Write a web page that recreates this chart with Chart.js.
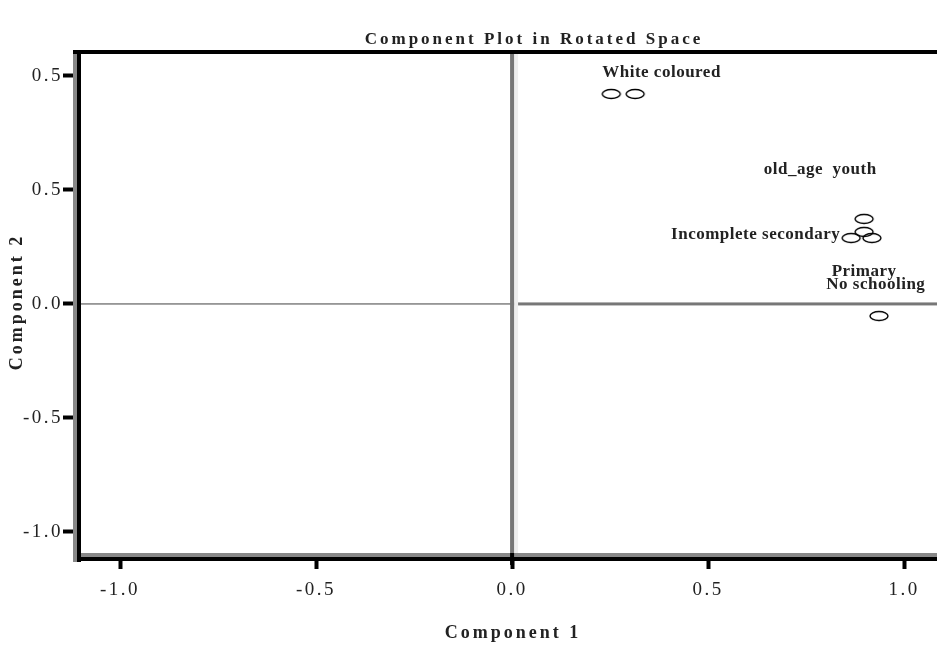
<!DOCTYPE html>
<html>
<head>
<meta charset="utf-8">
<script src="https://cdn.jsdelivr.net/npm/chart.js@4/dist/chart.umd.min.js"></script>
<style>
  html, body { margin: 0; padding: 0; background: #fff; }
  #wrap { width: 937px; height: 645px; }
</style>
</head>
<body>
<div id="wrap"><canvas id="myChart" width="937" height="645"></canvas></div>
<script>
'use strict';

// loadings
const comp1 = [0.253, 0.314, 0.898, 0.898, 0.865, 0.918, 0.936];
const comp2 = [0.921, 0.921, 0.373, 0.316, 0.289, 0.289, -0.053];

const tickValues = [-1.0, -0.5, 0.0, 0.5, 1.0];
const xTickLabels = ['-1.0', '-0.5', '0.0', '0.5', '1.0'];
const yTickLabels = ['-1.0', '-0.5', '0.0', '0.5', '0.5'];

const labelTexts = ['White coloured', 'old_age  youth', 'Incomplete secondary', 'Primary', 'No schooling'];
const labelX = [0.230, 0.786, 0.837, 0.898, 0.928];
const labelY = [1.013, 0.588, 0.303, 0.140, 0.083];
const labelAlign = ['left', 'center', 'right', 'center', 'center'];

const serif = '"Liberation Serif", "DejaVu Serif", serif';

// ellipse marker
const marker = document.createElement('canvas');
marker.width = 22;
marker.height = 12;
const mctx = marker.getContext('2d');
mctx.beginPath();
mctx.ellipse(11, 6, 9, 4.5, 0, 0, Math.PI * 2);
mctx.lineWidth = 1.4;
mctx.strokeStyle = '#000';
mctx.stroke();

const frame = {
  id: 'frame',
  beforeDraw(chart) {
    chart.ctx.letterSpacing = '2.5px';
  },
  beforeDatasetsDraw(chart) {
    const c = chart.ctx;
    const a = chart.chartArea;
    const x0 = chart.scales.x.getPixelForValue(0);
    const y0 = chart.scales.y.getPixelForValue(0);
    c.save();
    // zero lines
    c.fillStyle = '#777';
    c.fillRect(a.left, y0 - 0.7, x0 - a.left, 1.4);
    c.fillRect(x0, y0 - 1.5, a.right - x0, 3);
    c.fillStyle = '#eee';
    c.fillRect(x0 + 2, a.top, 4, a.bottom - a.top);
    c.fillStyle = '#777';
    c.fillRect(x0 - 2, a.top, 4, a.bottom - a.top + 5);
    // frame
    c.fillStyle = '#888';
    c.fillRect(a.left - 2, a.top, 4, a.bottom - a.top + 5);
    c.fillRect(a.left, a.bottom - 4, a.right - a.left, 4);
    c.fillStyle = '#000';
    c.fillRect(a.left - 2, a.top - 2, a.right - a.left + 2, 4);
    c.fillRect(a.left + 2, a.top, 4, a.bottom - a.top + 5);
    c.fillRect(a.left + 2, a.bottom, a.right - a.left, 4);
    c.fillRect(x0 - 2, a.bottom - 4, 4, 12);
    c.restore();
  },
  afterDraw(chart) {
    const c = chart.ctx;
    const xs = chart.scales.x;
    const ys = chart.scales.y;
    c.save();
    c.fillStyle = '#222';
    c.textBaseline = 'middle';
    // point labels
    c.font = 'bold 17px ' + serif;
    c.letterSpacing = '0.5px';
    labelTexts.forEach((t, i) => {
      c.textAlign = labelAlign[i];
      c.fillText(t, xs.getPixelForValue(labelX[i]), ys.getPixelForValue(labelY[i]));
    });
    // titles
    c.textAlign = 'center';
    c.font = 'bold 17px ' + serif;
    c.letterSpacing = '3px';
    c.fillText('Component Plot in Rotated Space', 534, 40);
    c.font = 'bold 18px ' + serif;
    c.fillText('Component 1', 513, 633);
    c.translate(17, 302);
    c.rotate(-Math.PI / 2);
    c.fillText('Component 2', 0, 0);
    c.restore();
  }
};

const ctx = document.getElementById('myChart').getContext('2d');

const myChart = new Chart(ctx, {
  type: 'scatter',
  data: {
    datasets: [{
      data: comp1.map((v, i) => ({ x: v, y: comp2[i] })),
      pointStyle: marker,
      pointRadius: 10
    }]
  },
  options: {
    responsive: false,
    animation: false,
    events: [],
    layout: { autoPadding: false, padding: { top: 52, left: 0, right: 0, bottom: 0 } },
    plugins: { legend: { display: false }, tooltip: { enabled: false } },
    scales: {
      x: {
        min: -1.115,
        max: 1.084,
        afterFit: (s) => { s.height = 88; s.paddingLeft = 0; s.paddingRight = 0; },
        afterBuildTicks: (s) => { s.ticks = tickValues.map(v => ({ value: v })); },
        border: { display: false },
        grid: { drawOnChartArea: false, color: '#000', tickLength: 12, tickWidth: 4 },
        ticks: {
          padding: 10,
          color: '#222',
          font: { family: serif, size: 19 },
          maxRotation: 0,
          autoSkip: false,
          callback: (v, i) => xTickLabels[i]
        }
      },
      y: {
        min: -1.11,
        max: 1.105,
        afterFit: (s) => { s.width = 75; s.paddingTop = 0; s.paddingBottom = 0; },
        afterBuildTicks: (s) => { s.ticks = tickValues.map(v => ({ value: v })); },
        border: { display: false },
        grid: { drawOnChartArea: false, color: '#000', tickLength: 12, tickWidth: 4 },
        ticks: {
          padding: 0,
          color: '#222',
          font: { family: serif, size: 19 },
          autoSkip: false,
          callback: (v, i) => yTickLabels[i]
        }
      }
    }
  },
  plugins: [frame]
});
</script>
</body>
</html>
